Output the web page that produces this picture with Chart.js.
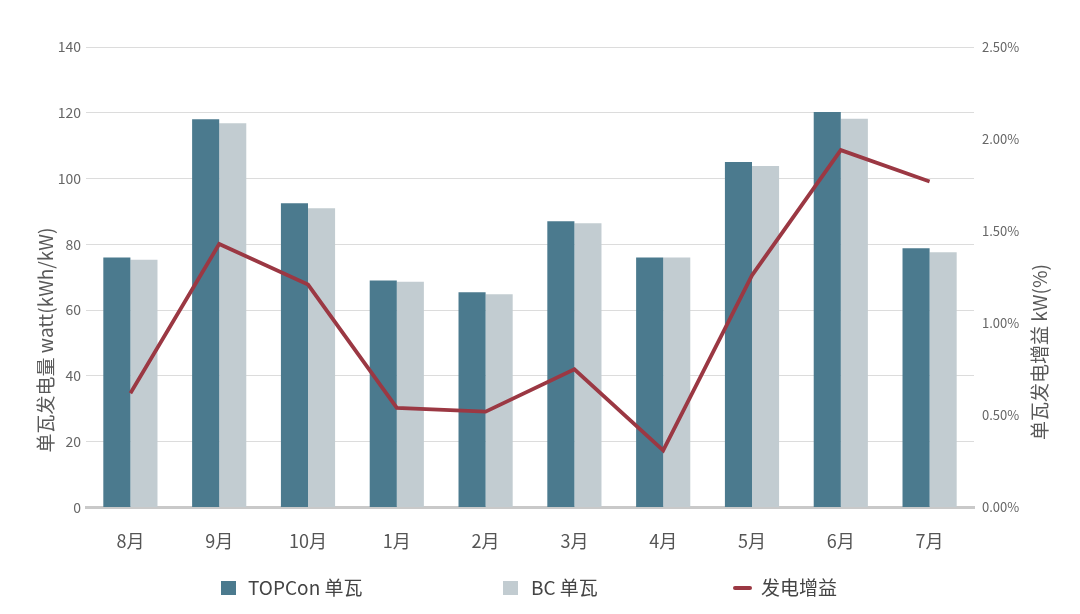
<!DOCTYPE html>
<html>
<head>
<meta charset="utf-8">
<script src="https://cdn.jsdelivr.net/npm/chart.js@4"></script>
<style>
  html, body { margin: 0; padding: 0; background: #fff; }
  #wrap { width: 1080px; height: 614px; }
</style>
</head>
<body>
<div id="wrap"><canvas id="gainChart" width="1080" height="614"></canvas></div>
<script>
// months in the order shown
const months = ['8月', '9月', '10月', '1月', '2月', '3月', '4月', '5月', '6月', '7月'];
// per-watt generation, kWh/kW
const topconValues = [76, 118, 92.5, 69, 65.4, 87, 76, 105, 120.2, 78.8];
const bcValues = [75.3, 116.8, 91, 68.6, 64.8, 86.4, 76, 103.8, 118.2, 77.6];
// generation gain, %
const gainValues = [0.62, 1.43, 1.21, 0.54, 0.52, 0.75, 0.31, 1.26, 1.94, 1.77];

const FONT = '"Noto Sans CJK SC", "Noto Sans", sans-serif';

// axis titles drawn by hand so both read bottom-to-top
const axisTitles = {
    id: 'axisTitles',
    afterDraw(chart) {
        const ctx = chart.ctx;
        ctx.save();
        ctx.fillStyle = '#595959';
        ctx.font = '19px ' + FONT;
        ctx.textAlign = 'center';
        ctx.textBaseline = 'middle';
        [[46, 340, '单瓦发电量 watt(kWh/kW)'], [1040, 352, '单瓦发电增益 kW(%)']].forEach(([x, y, text]) => {
            ctx.save();
            ctx.translate(x, y);
            ctx.rotate(-Math.PI / 2);
            ctx.fillText(text, 0, 0);
            ctx.restore();
        });
        ctx.restore();
    }
};

// legend spread out like the original, in dataset order TOPCon, BC, gain
const spreadLegend = {
    id: 'spreadLegend',
    afterDraw(chart) {
        const ctx = chart.ctx;
        const y = 588;
        const slots = [[221, 248, 1], [503, 531, 2], [733, 761, 0]];
        ctx.save();
        ctx.font = '19px ' + FONT;
        ctx.textBaseline = 'middle';
        ctx.textAlign = 'left';
        slots.forEach(([x, tx, i]) => {
            const ds = chart.data.datasets[i];
            if (ds.type === 'line') {
                ctx.strokeStyle = ds.borderColor;
                ctx.lineWidth = 4;
                ctx.lineCap = 'round';
                ctx.beginPath();
                ctx.moveTo(x + 2, y);
                ctx.lineTo(x + 17, y);
                ctx.stroke();
            } else {
                ctx.fillStyle = ds.backgroundColor;
                ctx.fillRect(x, y - 7, 15, 14);
            }
            ctx.fillStyle = '#444';
            ctx.fillText(ds.label, tx, y);
        });
        ctx.restore();
    }
};

const ctx = document.getElementById('gainChart').getContext('2d');
new Chart(ctx, {
    data: {
        labels: months,
        datasets: [
            {
                type: 'line',
                label: '发电增益',
                data: gainValues,
                yAxisID: 'y1',
                borderColor: '#9b3843',
                backgroundColor: '#9b3843',
                borderWidth: 3.8,
                pointRadius: 0,
                tension: 0,
                order: 0
            },
            {
                type: 'bar',
                label: 'TOPCon 单瓦',
                data: topconValues,
                yAxisID: 'y',
                backgroundColor: '#4b7a8e',
                categoryPercentage: 0.61,
                barPercentage: 1,
                order: 1
            },
            {
                type: 'bar',
                label: 'BC 单瓦',
                data: bcValues,
                yAxisID: 'y',
                backgroundColor: '#c2ccd1',
                categoryPercentage: 0.61,
                barPercentage: 1,
                order: 1
            }
        ]
    },
    options: {
        responsive: false,
        animation: false,
        layout: { padding: { top: 47, bottom: 47, left: 0, right: 0 } },
        scales: {
            x: {
                grid: { display: false },
                border: { display: true, color: '#c9c9c9', width: 3 },
                ticks: { color: '#555', font: { family: FONT, size: 18 }, padding: 15 }
            },
            y: {
                position: 'left',
                min: 0,
                max: 140,
                ticks: { stepSize: 20, color: '#666', font: { family: FONT, size: 14 }, padding: 5 },
                grid: { color: '#dcdcdc', drawTicks: false },
                border: { display: false },
                afterFit(axis) { axis.width = 86; }
            },
            y1: {
                position: 'right',
                min: 0,
                max: 2.5,
                ticks: {
                    stepSize: 0.5,
                    color: '#666',
                    font: { family: FONT, size: 13 },
                    padding: 8,
                    callback: v => v.toFixed(2) + '%'
                },
                grid: { display: false, drawTicks: false },
                border: { display: false },
                afterFit(axis) { axis.width = 106; }
            }
        },
        plugins: {
            legend: { display: false },
            tooltip: { enabled: false }
        }
    },
    plugins: [axisTitles, spreadLegend]
});
</script>
</body>
</html>
